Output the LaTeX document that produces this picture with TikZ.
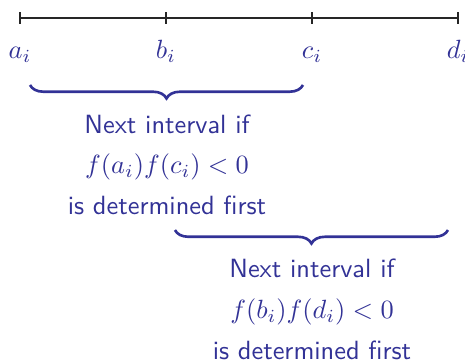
\documentclass[tikz,border=0pt]{standalone}
\usetikzlibrary{decorations.pathreplacing}
\definecolor{bisblue}{RGB}{50,50,150}
\tikzset{
  axisline/.style={line width=0.5pt, draw=black!85},
  ptlabel/.style={text=bisblue, anchor=base, inner sep=0pt},
  choicebrace/.style={decorate, decoration={brace, mirror, amplitude=0.18cm}, draw=bisblue, line width=1pt},
  choicetext/.style={text=bisblue, font=\sffamily\fontsize{10}{15.4}\selectfont, align=center, anchor=north, inner sep=0pt}
}

\begin{document}
\begin{tikzpicture}
  \useasboundingbox (0,0) rectangle (6.2,-4.827);

  % the interval and its four points
  \coordinate (a) at (0.267,-0.24);
  \coordinate (b) at (2.213,-0.24);
  \coordinate (c) at (4.16,-0.24);
  \coordinate (d) at (6.107,-0.24);
  \draw[axisline] (a) -- (d);
  \foreach \p in {a,b,c,d}
    \draw[axisline] ([yshift=0.08cm]\p) -- ([yshift=-0.08cm]\p);

  \node[ptlabel] (la) at (0.267,-0.78) {$a_i$};
  \node[ptlabel] (lb) at (2.213,-0.78) {$b_i$};
  \node[ptlabel] (lc) at (4.16,-0.78) {$c_i$};
  \node[ptlabel] (ld) at (6.107,-0.78) {$d_i$};

  % first choice
  \coordinate (l1) at (0.40,-1.133);
  \coordinate (r1) at (4.04,-1.133);
  \draw[choicebrace] (l1) -- (r1);
  \node[choicetext] (t1) at (2.227,-1.52)
    {Next interval if\\ $f(a_i)f(c_i)<0$\\ is determined first};

  % second choice
  \coordinate (l2) at (2.333,-3.067);
  \coordinate (r2) at (5.973,-3.067);
  \draw[choicebrace] (l2) -- (r2);
  \node[choicetext] (t2) at (4.16,-3.45)
    {Next interval if\\ $f(b_i)f(d_i)<0$\\ is determined first};
\end{tikzpicture}
\end{document}
